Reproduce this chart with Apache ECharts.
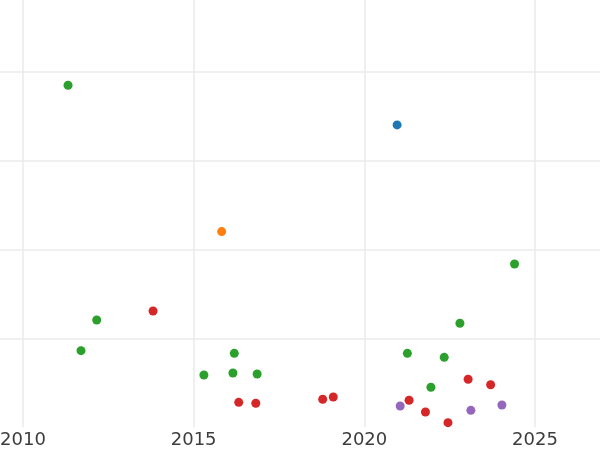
<!DOCTYPE html>
<html>
<head>
<meta charset="utf-8">
<script src="https://cdn.jsdelivr.net/npm/echarts@6/dist/echarts.min.js"></script>
<style>
  html, body { margin: 0; padding: 0; background: #fff; }
  #chart { width: 600px; height: 450px; }
</style>
</head>
<body>
<div id="chart"></div>
<script>
// values (x = year, y = unlabelled value)
const blueX = [2020.96]
const blueY = [3.40]

const orangeX = [2015.82]
const orangeY = [2.20]

const greenX = [2011.32, 2012.16, 2011.70, 2015.30, 2016.19, 2016.15, 2016.86, 2021.26, 2022.34, 2022.80, 2021.95, 2024.40]
const greenY = [3.846, 1.206, 0.861, 0.587, 0.831, 0.610, 0.598, 0.831, 0.786, 1.169, 0.449, 1.836]

const redX = [2013.81, 2016.32, 2016.82, 2018.78, 2019.09, 2021.31, 2021.79, 2022.45, 2023.04, 2023.70]
const redY = [1.307, 0.280, 0.269, 0.314, 0.340, 0.303, 0.171, 0.051, 0.539, 0.478]

const purpleX = [2021.05, 2023.12, 2024.03]
const purpleY = [0.238, 0.190, 0.250]

const colors = ['#1f77b4', '#ff7f0e', '#2ca02c', '#d62728', '#9467bd']

const zip = (xs, ys) => xs.map((x, i) => [x, ys[i]])

const groups = [
  zip(blueX, blueY),
  zip(orangeX, orangeY),
  zip(greenX, greenY),
  zip(redX, redY),
  zip(purpleX, purpleY)
]

const chart = echarts.init(document.getElementById('chart'))

// the reference is a crop of a bigger plot, so the grid runs past the canvas
chart.setOption({
  animation: false,
  backgroundColor: '#fff',
  grid: {
    left: -147.7,
    right: -105.7,
    top: -17.3,
    bottom: 22.8,
    containLabel: false,
    outerBoundsMode: 'none'
  },
  xAxis: {
    type: 'value',
    min: 2005,
    max: 2030,
    interval: 5,
    axisLine: { show: false },
    axisTick: { show: false },
    axisLabel: {
      margin: 4,
      fontSize: 18,
      color: '#3d3d3d',
      fontFamily: 'DejaVu Sans',
      formatter: v => String(v)
    },
    splitLine: {
      lineStyle: { color: '#ebebeb', width: 1.6 }
    }
  },
  yAxis: {
    type: 'value',
    min: 0,
    max: 5,
    interval: 1,
    axisLine: { show: false },
    axisTick: { show: false },
    axisLabel: { show: false },
    splitLine: {
      showMinLine: false,
      lineStyle: { color: '#ebebeb', width: 1.6 }
    }
  },
  series: groups.map((data, i) => ({
    type: 'scatter',
    symbolSize: 9,
    itemStyle: { color: colors[i], opacity: 1 },
    data: data
  }))
})
</script>
</body>
</html>
